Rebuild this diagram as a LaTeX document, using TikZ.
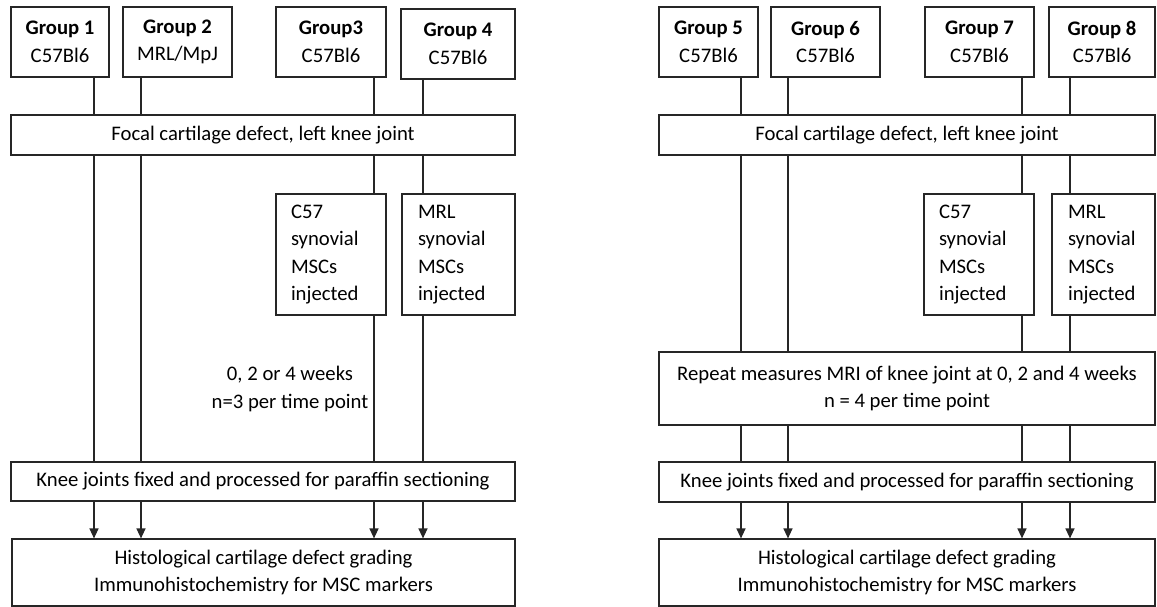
\documentclass[tikz,border=0pt]{standalone}
\usepackage{fontspec}
\setmainfont{Carlito}
\usetikzlibrary{arrows.meta}
\begin{document}
\begin{tikzpicture}[x=1pt,y=-1pt,
  box/.style={draw=black!85,line width=1.2pt,inner sep=0pt,align=center,
    font=\fontsize{20.7}{27.5}\selectfont},
  lbox/.style={box,align=left},
  conn/.style={draw=black!85,line width=1.3pt},
  arr/.style={conn,-{Triangle[width=9pt,length=10pt]}}]
\useasboundingbox (0,0) rectangle (1157,607);
% ---------- left panel ----------
\node[box,minimum width=98pt,minimum height=70pt] (g1) at (60,42) {\textbf{Group 1}\\C57Bl6};
\node[box,minimum width=109pt,minimum height=70pt] (g2) at (177.5,42) {\textbf{Group 2}\\MRL/MpJ};
\node[box,minimum width=110pt,minimum height=70pt] (g3) at (331,42) {\textbf{Group3}\\C57Bl6};
\node[box,minimum width=114pt,minimum height=70pt] (g4) at (458,44) {\textbf{Group 4}\\C57Bl6};
\node[box,minimum width=504pt,minimum height=40pt] (f1) at (263,135) {Focal cartilage defect, left knee joint};
\node[lbox,text width=80pt,minimum width=110pt,minimum height=121pt] (c1) at (331,254.5) {C57\\synovial\\MSCs\\injected};
\node[lbox,text width=81pt,minimum width=113pt,minimum height=121pt] (m1) at (458.5,254.5) {MRL\\synovial\\MSCs\\injected};
\node[align=center,inner sep=0pt,font=\fontsize{20.7}{27.5}\selectfont] (t1) at (290,389) {0, 2 or 4 weeks\\n=3 per time point};
\node[box,minimum width=504pt,minimum height=39pt] (k1) at (263,481.5) {Knee joints fixed and processed for paraffin sectioning};
\node[box,minimum width=503pt,minimum height=67pt] (h1) at (263.5,572.5) {Histological cartilage defect grading\\Immunohistochemistry for MSC markers};
\coordinate (xa) at (94,0);
\coordinate (xb) at (141,0);
\coordinate (xc) at (374,0);
\coordinate (xd) at (423,0);
\foreach \c/\g in {xa/g1,xb/g2,xc/g3,xd/g4}{
  \draw[conn] (\g.south -| \c) -- (f1.north -| \c);
  \draw[arr] (k1.south -| \c) -- (h1.north -| \c);
}
\foreach \c in {xa,xb}{
  \draw[conn] (f1.south -| \c) -- (k1.north -| \c);
}
\draw[conn] (f1.south -| xc) -- (c1.north -| xc);
\draw[conn] (c1.south -| xc) -- (k1.north -| xc);
\draw[conn] (f1.south -| xd) -- (m1.north -| xd);
\draw[conn] (m1.south -| xd) -- (k1.north -| xd);
% ---------- right panel ----------
\node[box,minimum width=99pt,minimum height=70pt] (g5) at (708.5,42) {\textbf{Group 5}\\C57Bl6};
\node[box,minimum width=109pt,minimum height=70pt] (g6) at (825.5,42) {\textbf{Group 6}\\C57Bl6};
\node[box,minimum width=109pt,minimum height=70pt] (g7) at (979.5,42) {\textbf{Group 7}\\C57Bl6};
\node[box,minimum width=106pt,minimum height=70pt] (g8) at (1102,42) {\textbf{Group 8}\\C57Bl6};
\node[box,minimum width=496pt,minimum height=40pt] (f2) at (907,135) {Focal cartilage defect, left knee joint};
\node[lbox,text width=80pt,minimum width=110pt,minimum height=121pt] (c2) at (979,254.5) {C57\\synovial\\MSCs\\injected};
\node[lbox,text width=71pt,minimum width=103pt,minimum height=121pt] (m2) at (1103.5,254.5) {MRL\\synovial\\MSCs\\injected};
\node[box,minimum width=496pt,minimum height=73pt] (r2) at (907,388.5) {Repeat measures MRI of knee joint at 0, 2 and 4 weeks\\n = 4 per time point};
\node[box,minimum width=496pt,minimum height=40pt] (k2) at (907,482) {Knee joints fixed and processed for paraffin sectioning};
\node[box,minimum width=496pt,minimum height=67pt] (h2) at (907,572.5) {Histological cartilage defect grading\\Immunohistochemistry for MSC markers};
\coordinate (xe) at (741,0);
\coordinate (xf) at (788,0);
\coordinate (xg) at (1022,0);
\coordinate (xh) at (1070,0);
\foreach \c/\g in {xe/g5,xf/g6,xg/g7,xh/g8}{
  \draw[conn] (\g.south -| \c) -- (f2.north -| \c);
  \draw[conn] (r2.south -| \c) -- (k2.north -| \c);
  \draw[arr] (k2.south -| \c) -- (h2.north -| \c);
}
\foreach \c in {xe,xf}{
  \draw[conn] (f2.south -| \c) -- (r2.north -| \c);
}
\draw[conn] (f2.south -| xg) -- (c2.north -| xg);
\draw[conn] (c2.south -| xg) -- (r2.north -| xg);
\draw[conn] (f2.south -| xh) -- (m2.north -| xh);
\draw[conn] (m2.south -| xh) -- (r2.north -| xh);
\end{tikzpicture}
\end{document}
